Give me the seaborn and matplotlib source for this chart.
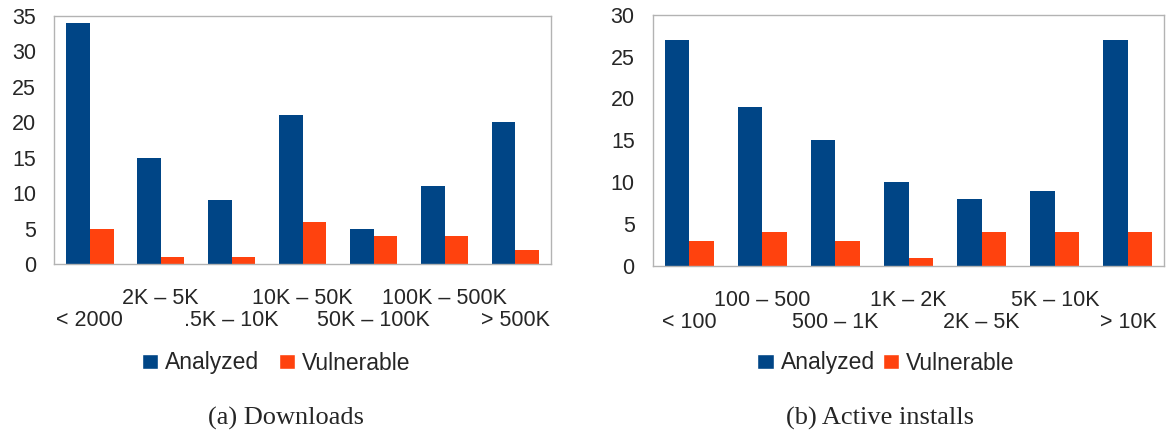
import numpy as np
import pandas as pd
import matplotlib
matplotlib.use('Agg')
import matplotlib.pyplot as plt
import seaborn as sns
from matplotlib.patches import Patch

# data
dl_labels = ['< 2000', '2K – 5K', '.5K – 10K', '10K – 50K', '50K – 100K', '100K – 500K', '> 500K']
dl_analyzed = [34, 15, 9, 21, 5, 11, 20]
dl_vulnerable = [5, 1, 1, 6, 4, 4, 2]

ai_labels = ['< 100', '100 – 500', '500 – 1K', '1K – 2K', '2K – 5K', '5K – 10K', '> 10K']
ai_analyzed = [27, 19, 15, 10, 8, 9, 27]
ai_vulnerable = [3, 4, 3, 1, 4, 4, 4]

series = ['Analyzed', 'Vulnerable']
colors = ['#004586', '#ff420e']

sns.set_style('white')
plt.rcParams['font.family'] = ['Liberation Sans', 'DejaVu Sans']

fig = plt.figure(figsize=(11.67, 4.36), dpi=100)
ax1 = fig.add_axes([0.0465, 0.3938, 0.4256, 0.5702])
ax2 = fig.add_axes([0.5593, 0.3899, 0.4385, 0.5764])


def draw(ax, labels, analyzed, vulnerable, ymax):
    df = pd.DataFrame({
        'cat': labels * 2,
        'val': analyzed + vulnerable,
        'series': ['Analyzed'] * len(labels) + ['Vulnerable'] * len(labels),
    })
    sns.barplot(data=df, x='cat', y='val', hue='series', order=labels,
                hue_order=series, palette=colors, saturation=1, width=0.67,
                linewidth=0, ax=ax, legend=False)
    ax.set_xlim(-0.5, len(labels) - 0.5)
    ax.set_ylim(0, ymax)
    ax.set_yticks(np.arange(0, ymax + 1, 5))
    ax.set_xlabel('')
    ax.set_ylabel('')
    ax.set_xticks(range(len(labels)))
    ax.set_xticklabels(labels)
    ax.set_xticks(np.arange(-0.5, len(labels)), minor=True)
    ax.tick_params(axis='x', which='major', length=0, pad=17, labelsize=15.5)
    ax.tick_params(axis='x', which='minor', length=9, width=1, color='#b3b3b3', direction='out')
    ax.tick_params(axis='y', length=9, width=1, color='#b3b3b3', direction='out', pad=4, labelsize=15.5)
    # staggered category labels: every other one goes on a second row
    for i, t in enumerate(ax.xaxis.get_major_ticks()):
        if i % 2 == 0:
            t.set_pad(33)
    for s in ax.spines.values():
        s.set_color('#b3b3b3')
        s.set_linewidth(1)
        s.set_visible(True)


draw(ax1, dl_labels, dl_analyzed, dl_vulnerable, 35)
draw(ax2, ai_labels, ai_analyzed, ai_vulnerable, 30)

handles = [Patch(facecolor=c, label=s) for c, s in zip(colors, series)]
for cx, colsp in [(276 / 1167, 0.85), (886 / 1167, 0.35)]:
    fig.legend(handles=handles, loc='center', bbox_to_anchor=(cx, 1 - 363 / 436),
               ncol=2, frameon=False, fontsize=16.5, handlelength=0.72, handleheight=0.6,
               handletextpad=0.3, columnspacing=colsp, borderpad=0)

fig.text(286 / 1167, 1 - 418 / 436, '(a) Downloads', ha='center', va='center',
         fontsize=19, family=['Liberation Serif', 'DejaVu Serif'])
fig.text(880 / 1167, 1 - 418 / 436, '(b) Active installs', ha='center', va='center',
         fontsize=19, family=['Liberation Serif', 'DejaVu Serif'])

fig.savefig('out.png', dpi=100)
